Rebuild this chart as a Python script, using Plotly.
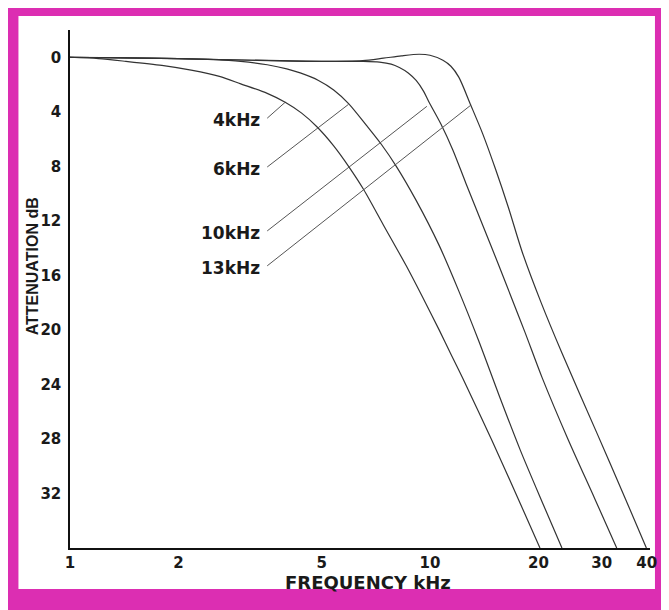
import math
import plotly.graph_objects as go

# ---------------- data ----------------
freq_4k = [1.0, 1.2, 1.43, 1.8, 2.17, 2.6, 2.98, 3.53, 3.96, 4.4, 4.85, 5.4, 5.94, 6.54, 7.42, 8.59, 9.75, 10.6, 11.44, 12.3, 14.85, 17.58, 20.2]
att_4k = [0, 0.1, 0.3, 0.6, 0.95, 1.4, 1.95, 2.65, 3.3, 4.1, 5.1, 6.5, 8.0, 9.7, 12.3, 15.3, 18.1, 20.0, 21.8, 23.5, 28.1, 32.4, 36]

freq_6k = [1.0, 1.5, 2.0, 2.5, 2.98, 3.53, 4.0, 4.36, 4.9, 5.4, 5.94, 6.66, 7.33, 8.06, 9.15, 10.6, 12.0, 13.65, 15.5, 17.8, 20.7, 23.25]
att_6k = [0, 0.05, 0.1, 0.17, 0.3, 0.55, 0.85, 1.15, 1.7, 2.4, 3.4, 5.0, 6.4, 8.0, 10.5, 13.8, 17.1, 20.8, 24.7, 28.8, 32.9, 36]

freq_10k = [1.0, 2.0, 3.0, 5.0, 6.5, 7.24, 7.8, 8.22, 8.7, 9.15, 9.6, 9.94, 10.72, 11.57, 12.56, 14.0, 15.49, 16.93, 18.37, 20.48, 24.15, 28.7, 33.0]
att_10k = [0, 0.1, 0.2, 0.3, 0.3, 0.35, 0.5, 0.75, 1.15, 1.7, 2.5, 3.3, 4.9, 6.8, 9.2, 12.3, 15.2, 17.8, 20.2, 23.5, 28.0, 32.4, 36]

freq_13k = [1.0, 2.0, 3.0, 5.0, 6.5, 7.42, 8.32, 9.33, 10.0, 10.86, 11.43, 12.02, 12.97, 14.0, 15.2, 16.5, 18.04, 20.35, 23.25, 29.0, 34.9, 39.9]
att_13k = [0, 0.1, 0.2, 0.3, 0.25, 0.07, -0.1, -0.22, -0.15, 0.22, 0.66, 1.46, 3.5, 5.6, 8.2, 11.0, 14.3, 18.0, 21.7, 27.5, 32.4, 36]

curve_labels = ["4kHz", "6kHz", "10kHz", "13kHz"]
# leader lines: label end (kHz, dB) -> point on curve (kHz, dB)
leader_start_f = [3.53, 3.53, 3.53, 3.53]
leader_start_db = [4.47, 8.05, 12.74, 15.3]
leader_end_f = [3.96, 5.94, 9.8, 13.0]
leader_end_db = [3.3, 3.45, 3.6, 3.5]

x_tickvals = [1, 2, 5, 10, 20, 30, 40]
x_ticktext = ["1", "2", "5", "10", "20", "30", "40"]
y_tickvals = [0, 4, 8, 12, 16, 20, 24, 28, 32]
y_ticktext = ["0", "4", "8", "12", "16", "20", "24", "28", "32"]

# ---------------- layout geometry (page pixels; page body has 8px margin) ----------------
OFF = 8
W, H = 669 - OFF, 610 - OFF
L, R, T, B = 70 - OFF, 14, 30 - OFF, 62
PW, PH = W - L - R, H - T - B


def px(x):
    return (x - OFF - L) / PW


def py(y):
    return (H - B - (y - OFF)) / PH


MAGENTA = "#DC2EB2"
LINE = "#333333"
FONT = "DejaVu Sans"
TXT = "#1a1a1a"

fig = go.Figure()

for f, a in [(freq_4k, att_4k), (freq_6k, att_6k), (freq_10k, att_10k), (freq_13k, att_13k)]:
    fig.add_trace(go.Scatter(x=f, y=a, mode="lines",
                             line=dict(color=LINE, width=1.2, shape="spline", smoothing=0.8),
                             hoverinfo="skip", showlegend=False))

for i in range(len(curve_labels)):
    fig.add_trace(go.Scatter(x=[leader_start_f[i], leader_end_f[i]],
                             y=[leader_start_db[i], leader_end_db[i]],
                             mode="lines", line=dict(color="#555555", width=1),
                             hoverinfo="skip", showlegend=False))
    fig.add_annotation(x=math.log10(leader_start_f[i]), y=leader_start_db[i],
                       text="<b>%s</b>" % curve_labels[i], showarrow=False,
                       xanchor="right", yanchor="middle", xshift=-5, yshift=-2,
                       font=dict(family=FONT, size=17, color=TXT))

# axis titles
fig.add_annotation(xref="paper", yref="paper", x=px(32), y=py(266),
                   text="<b>ATTENUATION dB</b>", textangle=-90, showarrow=False,
                   xanchor="center", yanchor="middle",
                   font=dict(family="Liberation Sans", size=16, color=TXT))
fig.add_annotation(xref="paper", yref="paper", x=px(371), y=py(582),
                   text="<b>FREQUENCY kHz</b>", showarrow=False,
                   xanchor="center", yanchor="middle",
                   font=dict(family=FONT, size=18, color=TXT))

# magenta frame (decoration)
shapes = []


def rect(x0, y0, x1, y1, color):
    shapes.append(dict(type="rect", xref="paper", yref="paper", layer="below",
                       x0=px(x0), x1=px(x1), y0=py(y1), y1=py(y0),
                       line=dict(width=0), fillcolor=color))


rect(0, 0, 669, 610, MAGENTA)
rect(18, 16, 660, 589, "white")
fig.update_layout(shapes=shapes)

fig.update_layout(
    width=W, height=H,
    margin=dict(l=L, r=R, t=T, b=B),
    paper_bgcolor="white", plot_bgcolor="white",
    showlegend=False,
    xaxis=dict(type="log", range=[0, 1.611], tickvals=x_tickvals,
               ticktext=["<b>%s</b>" % t for t in x_ticktext],
               showgrid=False, zeroline=False, showline=True, linecolor="#111", linewidth=2,
               ticks="", tickfont=dict(family=FONT, size=15, color=TXT)),
    yaxis=dict(range=[36, -2], tickvals=y_tickvals,
               ticktext=["<b>%s</b>" % t for t in y_ticktext],
               showgrid=False, zeroline=False, showline=True, linecolor="#111", linewidth=1.5,
               ticks="", ticklabelstandoff=4, tickfont=dict(family=FONT, size=15, color=TXT)),
)

fig.write_html("out.html")
